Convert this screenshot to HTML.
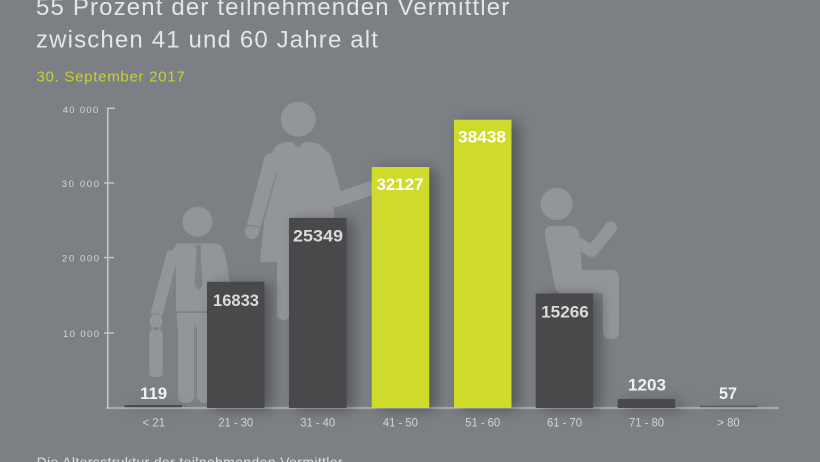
<!DOCTYPE html>
<html>
<head>
<meta charset="utf-8">
<style>
  html,body{margin:0;padding:0;background:#7c7f83;}
  svg{display:block;}
  text{font-family:"Liberation Sans",sans-serif;}
</style>
</head>
<body>
<svg width="820" height="462" viewBox="0 0 820 462" xmlns="http://www.w3.org/2000/svg">
  <defs>
    <filter id="sh" x="-60%" y="-20%" width="220%" height="140%">
      <feDropShadow dx="7" dy="2" stdDeviation="7" flood-color="#000" flood-opacity="0.33"/>
    </filter>
  </defs>
  <rect x="0" y="0" width="820" height="462" fill="#7c7f83"/>

  <!-- Title -->
  <text x="36" y="15" font-size="24" letter-spacing="1.15" fill="#e4e5e6">55 Prozent der teilnehmenden Vermittler</text>
  <text x="36" y="47.7" font-size="24" letter-spacing="1.15" fill="#e4e5e6">zwischen 41 und 60 Jahre alt</text>
  <text x="36.5" y="81.3" font-size="15" letter-spacing="0.72" fill="#c6d232">30. September 2017</text>

  <!-- Figures -->
  <g fill="#929599">
    <!-- Man -->
    <circle cx="197.5" cy="221.7" r="15"/>
    <path d="M176 243.5 L215 243.5 Q224 244 224 256 L224 312 L176 312 L176 256 Q176 244 176 243.5 Z"/>
    <path d="M183 243.5 L212 243.5 Q223 244 226 258 L230 285 L212 285 L212 270 L179 270 Q170 262 172 252 Q175 244 183 243.5 Z"/>
    <line x1="172" y1="256" x2="157" y2="312" stroke="#929599" stroke-width="12" stroke-linecap="round"/>
    <circle cx="156" cy="321" r="6.5"/>
    <rect x="177" y="313" width="36" height="14"/>
    <rect x="178" y="318" width="16" height="85" rx="7"/>
    <rect x="197" y="318" width="16" height="85" rx="7"/>
    <rect x="149.3" y="330" width="13.4" height="47" rx="4"/>
    <rect x="152.5" y="325" width="7" height="6" rx="1.5" fill="none" stroke="#929599" stroke-width="2"/>
    <!-- Woman -->
    <circle cx="298.2" cy="119.2" r="17.5"/>
    <path d="M270 162 Q272 143 287 142 L310 142 Q325 143 328 158 L340 262 L260 262 Z"/>
    <line x1="271" y1="160" x2="254" y2="225" stroke="#929599" stroke-width="14" stroke-linecap="round"/>
    <circle cx="252" cy="232" r="7"/>
    <polyline points="324,158 336,200 374,187" fill="none" stroke="#929599" stroke-width="14" stroke-linecap="round" stroke-linejoin="round"/>
    <rect x="277" y="255" width="13" height="65" rx="6"/>
    <!-- Seated -->
    <circle cx="556.7" cy="204" r="16"/>
    <path d="M551 226 L570 226 Q578 226 579 234 L582 270 L611 270 Q619 270 619 278 L619 331 Q619 339 611 339 Q603 339 603 331 L603 293 L562 293 Q556 293 555 286 L545 236 Q544 226 551 226 Z"/>
    <polyline points="568,238 592,251 610,229" fill="none" stroke="#929599" stroke-width="12" stroke-linecap="round" stroke-linejoin="round"/>
    <circle cx="610.5" cy="228" r="6.5"/>
  </g>
  <!-- figure details -->
  <g fill="none" stroke="#828589" stroke-width="1.5">
    <line x1="176" y1="269" x2="170" y2="300"/>
    <line x1="177" y1="311.5" x2="213" y2="311.5"/>
    <line x1="195.5" y1="324" x2="195.5" y2="403"/>
    <line x1="160" y1="314.5" x2="153" y2="313.5"/>
    <line x1="277" y1="172" x2="263" y2="222"/>
    <line x1="246" y1="225" x2="260" y2="227"/>
  </g>
  <polygon points="195,245 202,245 200.5,250 202.5,285 198.5,291 194.5,285 196.5,250" fill="#7f8286"/>
  <polygon points="292,142 304,142 298,148" fill="#7c7f83"/>

  <!-- Baseline & axis -->
  <rect x="106" y="407" width="673" height="2" fill="#a9abad"/>
  <rect x="107" y="108" width="1.5" height="300" fill="#c4c6c8"/>
  <rect x="107" y="107.5" width="8" height="1.5" fill="#c4c6c8"/>
  <rect x="104" y="182.2" width="10" height="1.5" fill="#c4c6c8"/>
  <rect x="104" y="256.8" width="10" height="1.5" fill="#c4c6c8"/>
  <rect x="104" y="332.2" width="10" height="1.5" fill="#c4c6c8"/>

  <g font-size="9.5" fill="#d6d7d8">
    <text x="62.7" y="113" textLength="35.6">40 000</text>
    <text x="61.7" y="187" textLength="37.3">30 000</text>
    <text x="62" y="261.6" textLength="37">20 000</text>
    <text x="63" y="337" textLength="36">10 000</text>
  </g>

  <!-- Bars -->
  <g filter="url(#sh)">
    <rect x="124.5" y="405" width="57.5" height="2.2" fill="#4a4b4d"/>
    <rect x="207" y="281.8" width="57.5" height="126.2" fill="#48494b"/>
    <rect x="289" y="217.9" width="57.5" height="190.1" fill="#48494b"/>
    <rect x="371.7" y="167" width="57.5" height="241" fill="#cedb2a"/>
    <rect x="454" y="119.7" width="57.5" height="288.3" fill="#cedb2a"/>
    <rect x="535.7" y="293.5" width="57.5" height="114.5" fill="#48494b"/>
    <rect x="617.7" y="399" width="57.5" height="9" fill="#48494b"/>
    <rect x="700" y="405.6" width="57" height="1.6" fill="#5a5b5e"/>
  </g>

  <!-- Value labels -->
  <g font-size="17" font-weight="bold" text-anchor="middle" lengthAdjust="spacingAndGlyphs">
    <text x="153.6" y="399" textLength="27" lengthAdjust="spacingAndGlyphs" fill="#f2f2f2">119</text>
    <text x="236" y="306" textLength="46" lengthAdjust="spacingAndGlyphs" fill="#d9dadb">16833</text>
    <text x="318" y="241.7" textLength="50" lengthAdjust="spacingAndGlyphs" fill="#d9dadb">25349</text>
    <text x="400" y="190" textLength="47" lengthAdjust="spacingAndGlyphs" fill="#ffffff">32127</text>
    <text x="482" y="142.7" textLength="48" lengthAdjust="spacingAndGlyphs" fill="#ffffff">38438</text>
    <text x="565" y="317.3" textLength="47.7" lengthAdjust="spacingAndGlyphs" fill="#d9dadb">15266</text>
    <text x="647" y="390.7" textLength="38" lengthAdjust="spacingAndGlyphs" fill="#f0f0f0">1203</text>
    <text x="728" y="399" textLength="18" lengthAdjust="spacingAndGlyphs" fill="#f0f0f0">57</text>
  </g>

  <!-- Category labels -->
  <g font-size="12" text-anchor="middle" fill="#d2d3d5">
    <text x="153.8" y="426.7" textLength="22.5" lengthAdjust="spacingAndGlyphs">&lt; 21</text>
    <text x="235.7" y="426.7" textLength="35" lengthAdjust="spacingAndGlyphs">21 - 30</text>
    <text x="317.7" y="426.7" textLength="35" lengthAdjust="spacingAndGlyphs">31 - 40</text>
    <text x="400.4" y="426.7" textLength="35" lengthAdjust="spacingAndGlyphs">41 - 50</text>
    <text x="482.7" y="426.7" textLength="35" lengthAdjust="spacingAndGlyphs">51 - 60</text>
    <text x="564.5" y="426.7" textLength="35" lengthAdjust="spacingAndGlyphs">61 - 70</text>
    <text x="646.5" y="426.7" textLength="35" lengthAdjust="spacingAndGlyphs">71 - 80</text>
    <text x="728.5" y="426.7" textLength="22.5" lengthAdjust="spacingAndGlyphs">&gt; 80</text>
  </g>

  <!-- Footnote -->
  <text x="36.6" y="467" font-size="14" textLength="306" fill="#dedfe0">Die Altersstruktur der teilnehmenden Vermittler</text>
</svg>
</body>
</html>
